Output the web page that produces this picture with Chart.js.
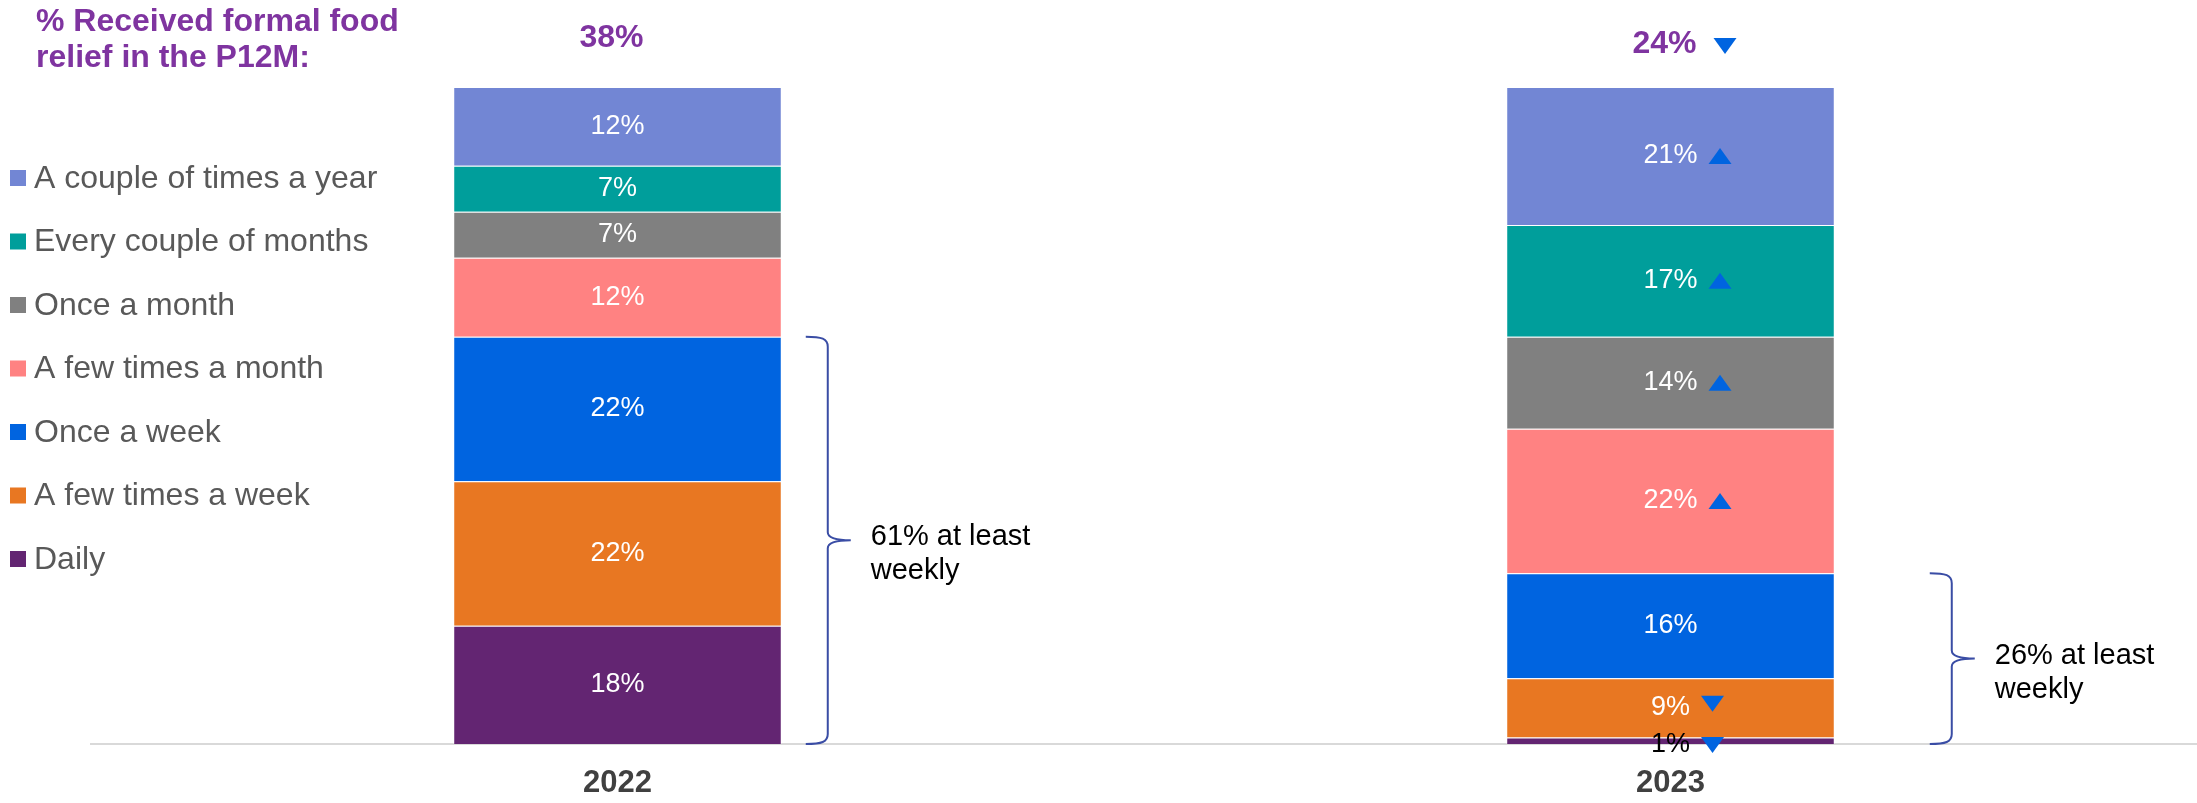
<!DOCTYPE html>
<html>
<head>
<meta charset="utf-8">
<script src="https://cdn.jsdelivr.net/npm/chart.js@4.4.0/dist/chart.umd.min.js"></script>
<style>
  body { margin: 0; background: #fff; }
  #wrap { width: 2197px; height: 803px; position: relative; }
</style>
</head>
<body>
<div id="wrap"><canvas id="grafico"></canvas></div>
<script>
var anos = ['2022', '2023'];

// series, bottom of the stack first
var daily = [18, 1];
var fewWeek = [22, 9];
var onceWeek = [22, 16];
var fewMonth = [12, 22];
var onceMonth = [7, 14];
var everyCouple = [7, 17];
var coupleYear = [12, 21];

// significance arrows vs 2022
var dailyChange = [null, 'down'];
var fewWeekChange = [null, 'down'];
var onceWeekChange = [null, null];
var fewMonthChange = [null, 'up'];
var onceMonthChange = [null, 'up'];
var everyCoupleChange = [null, 'up'];
var coupleYearChange = [null, 'up'];

var totais = [38, 24];
var totaisChange = [null, 'down'];
var semanal = [['61% at least', 'weekly'], ['26% at least', 'weekly']];

var titulo = ['% Received formal food', 'relief in the P12M:'];

var FONTE = '"Liberation Sans", Arial, sans-serif';
var ROXO = '#7F34A0';
var AZUL_SETA = '#0064E0';

function seta(ctx, x, y, dir) {
  // triangle, x = left edge, y = vertical centre
  ctx.save();
  ctx.fillStyle = AZUL_SETA;
  ctx.beginPath();
  if (dir == 'up') {
    ctx.moveTo(x, y + 8);
    ctx.lineTo(x + 23, y + 8);
    ctx.lineTo(x + 11.5, y - 8);
  } else {
    ctx.moveTo(x, y - 8);
    ctx.lineTo(x + 23, y - 8);
    ctx.lineTo(x + 11.5, y + 8);
  }
  ctx.closePath();
  ctx.fill();
  ctx.restore();
}

var rotulos = {
  id: 'rotulos',
  afterDatasetsDraw: function(chart) {
    var ctx = chart.ctx;
    var datasets = chart.data.datasets;
    ctx.save();
    ctx.font = '27px ' + FONTE;
    ctx.textAlign = 'center';
    ctx.textBaseline = 'middle';
    for (var d = 0; d < datasets.length; d++) {
      var meta = chart.getDatasetMeta(d);
      for (var i = 0; i < meta.data.length; i++) {
        var bar = meta.data[i];
        var v = datasets[d].data[i];
        var texto = v + '%';
        var h = Math.abs(bar.base - bar.y);
        var y = (bar.y + bar.base) / 2;
        var pequeno = h < 20;
        if (pequeno) {
          ctx.fillStyle = '#000';
          y = bar.base + 1;
        } else {
          ctx.fillStyle = '#fff';
        }
        ctx.fillText(texto, bar.x, y);
        var ch = datasets[d].change[i];
        if (ch) {
          var w = ctx.measureText(texto).width;
          seta(ctx, bar.x + w / 2 + 11, (ch == 'down' && !pequeno) ? y - 4 : y, ch);
        }
      }
    }
    ctx.restore();
  },
  afterDraw: function(chart) {
    var ctx = chart.ctx;
    var yScale = chart.scales.y;
    var datasets = chart.data.datasets;
    ctx.save();

    // title
    ctx.fillStyle = ROXO;
    ctx.font = 'bold 32px ' + FONTE;
    ctx.textAlign = 'left';
    ctx.textBaseline = 'alphabetic';
    ctx.fillText(titulo[0], 36, 31);
    ctx.fillText(titulo[1], 36, 67);

    // totals above the bars
    var meta0 = chart.getDatasetMeta(0);
    var totalY = [38, 44];
    ctx.textAlign = 'center';
    ctx.textBaseline = 'middle';
    for (var i = 0; i < totais.length; i++) {
      var cx = meta0.data[i].x - 6;
      var t = totais[i] + '%';
      ctx.fillStyle = ROXO;
      ctx.fillText(t, cx, totalY[i]);
      if (totaisChange[i]) {
        var tw = ctx.measureText(t).width;
        seta(ctx, cx + tw / 2 + 17, totalY[i] + 2, totaisChange[i]);
      }
    }

    // legend, top of the stack first
    ctx.font = '32px ' + FONTE;
    ctx.textAlign = 'left';
    for (var k = 0; k < datasets.length; k++) {
      var ds = datasets[datasets.length - 1 - k];
      var ly = 178 + k * 63.5;
      ctx.fillStyle = ds.backgroundColor;
      ctx.fillRect(10, ly - 8, 16, 16);
      ctx.fillStyle = '#595959';
      ctx.fillText(ds.label, 34, ly + 1);
    }

    // brackets: daily + a few times a week + once a week
    var folga = [24, 95];
    for (var j = 0; j < anos.length; j++) {
      var soma = datasets[0].data[j] + datasets[1].data[j] + datasets[2].data[j];
      var bar = meta0.data[j];
      var yT = yScale.getPixelForValue(soma);
      var yB = yScale.getPixelForValue(0);
      var yM = (yT + yB) / 2;
      var x0 = bar.x + bar.width / 2 + folga[j];
      var xv = x0 + 22;
      var xt = x0 + 45;
      ctx.strokeStyle = '#3A4DA5';
      ctx.lineWidth = 2;
      ctx.beginPath();
      ctx.moveTo(x0, yT);
      ctx.bezierCurveTo(xv - 6, yT, xv, yT + 2, xv, yT + 10);
      ctx.lineTo(xv, yM - 8);
      ctx.quadraticCurveTo(xv, yM, xt, yM);
      ctx.moveTo(xt, yM);
      ctx.quadraticCurveTo(xv, yM, xv, yM + 8);
      ctx.lineTo(xv, yB - 10);
      ctx.bezierCurveTo(xv, yB - 2, xv - 6, yB, x0, yB);
      ctx.stroke();

      ctx.fillStyle = '#000';
      ctx.font = '29px ' + FONTE;
      ctx.textBaseline = 'alphabetic';
      ctx.fillText(semanal[j][0], xt + 20, yM + 5);
      ctx.fillText(semanal[j][1], xt + 20, yM + 39);
    }
    ctx.restore();
  }
};

var ctx = document.getElementById('grafico').getContext('2d');

var chart = new Chart(ctx, {
  type: 'bar',
  data: {
    labels: anos,
    datasets: [
      { label: 'Daily', data: daily, change: dailyChange, backgroundColor: '#632572' },
      { label: 'A few times a week', data: fewWeek, change: fewWeekChange, backgroundColor: '#E87722' },
      { label: 'Once a week', data: onceWeek, change: onceWeekChange, backgroundColor: '#0064E0' },
      { label: 'A few times a month', data: fewMonth, change: fewMonthChange, backgroundColor: '#FF8282' },
      { label: 'Once a month', data: onceMonth, change: onceMonthChange, backgroundColor: '#808080' },
      { label: 'Every couple of months', data: everyCouple, change: everyCoupleChange, backgroundColor: '#009E9B' },
      { label: 'A couple of times a year', data: coupleYear, change: coupleYearChange, backgroundColor: '#7286D4' }
    ]
  },
  options: {
    responsive: true,
    maintainAspectRatio: false,
    animation: false,
    layout: { padding: { left: 91, right: 0, top: 87, bottom: 0 } },
    datasets: {
      bar: {
        barPercentage: 1,
        categoryPercentage: 0.312,
        borderWidth: 1,
        borderColor: 'rgba(255,255,255,0.35)'
      }
    },
    plugins: {
      legend: { display: false },
      tooltip: { enabled: false }
    },
    scales: {
      x: {
        stacked: true,
        grid: { display: false, drawTicks: false },
        border: { display: true, color: '#D9D9D9', width: 2 },
        ticks: {
          color: '#404040',
          font: { family: FONTE, size: 31, weight: 'bold' },
          padding: 21
        },
        afterFit: function(scale) { scale.height = 59; }
      },
      y: {
        stacked: true,
        display: false,
        min: 0,
        max: 100
      }
    }
  },
  plugins: [rotulos]
});
</script>
</body>
</html>
